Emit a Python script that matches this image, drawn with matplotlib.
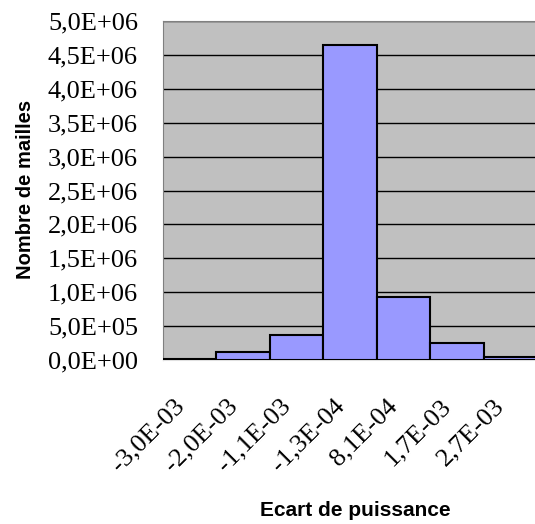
import matplotlib.pyplot as plt
from matplotlib.ticker import FuncFormatter
from matplotlib.transforms import ScaledTranslation

categories = ["-3,0E-03", "-2,0E-03", "-1,1E-03", "-1,3E-04", "8,1E-04", "1,7E-03", "2,7E-03"]
counts = [20000, 120000, 370000, 4650000, 930000, 250000, 40000]
y_ticks = [i * 500000 for i in range(11)]

fig = plt.figure(figsize=(5.35, 5.24), dpi=100)
ax = fig.add_axes([163 / 535, 1 - 360 / 524, 374 / 535, 339 / 524])

ax.set_facecolor("#c0c0c0")
x = list(range(len(categories)))
ax.bar(x, counts, width=1.0, color="#9999ff", edgecolor="black", linewidth=1.5, zorder=3)

ax.set_xlim(-0.5, 6.5)
ax.set_ylim(0, 5000000)
ax.set_yticks(y_ticks)
ax.yaxis.grid(True, color="black", linewidth=1.0, zorder=0)
ax.set_axisbelow(True)


def sci_fr(v, pos):
    s = "%.1E" % v
    return s.replace(".", ",")


ax.yaxis.set_major_formatter(FuncFormatter(sci_fr))
ax.tick_params(axis="y", length=0, pad=18, labelsize=19)
ax.set_xticks(x)
ax.set_xticklabels(categories, rotation=45, ha="right", va="top", rotation_mode="anchor")
ax.tick_params(axis="x", length=0, pad=25, labelsize=19)
shift = ScaledTranslation(-17 / 100, 0, fig.dpi_scale_trans)
for lab in ax.get_xticklabels():
    lab.set_transform(lab.get_transform() + shift)
for lab in ax.get_xticklabels() + ax.get_yticklabels():
    lab.set_fontfamily("Liberation Serif")

for side in ["left", "top"]:
    ax.spines[side].set_color("#808080")
ax.spines["bottom"].set_color("#e0e0e0")
ax.spines["right"].set_visible(False)

fig.text(26 / 535, 1 - 189 / 524, "Nombre de mailles", fontfamily="Liberation Sans",
         fontweight="bold", fontsize=14.5, rotation=90, ha="center", va="center")
fig.text(355 / 535, 1 - 511 / 524, "Ecart de puissance", fontfamily="Liberation Sans",
         fontweight="bold", fontsize=15, ha="center", va="center")

fig.savefig("out.png", dpi=100)
